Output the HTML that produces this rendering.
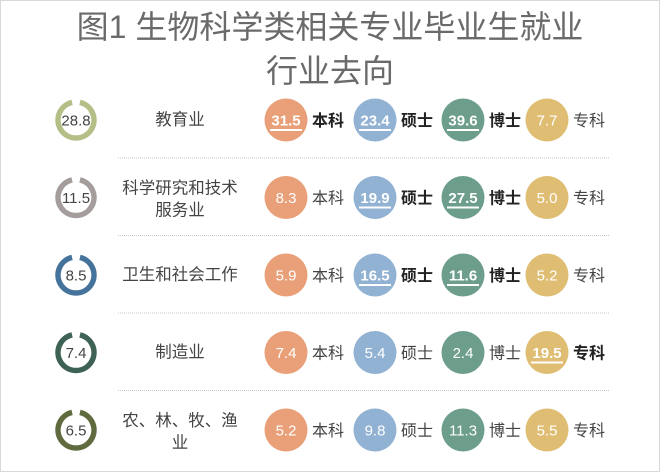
<!DOCTYPE html>
<html><head><meta charset="utf-8">
<style>
body{margin:0;background:#fff;}
#c{position:relative;width:660px;height:472px;overflow:hidden;font-family:"Liberation Sans","Noto Sans CJK SC",sans-serif;}
</style></head><body>
<div id="c">
<svg id="s" width="660" height="472"></svg>
</div>
<script>
const industries=["教育业","科学研究和技术|服务业","卫生和社会工作","制造业","农、林、牧、渔|业"];
const overall=[28.8,11.5,8.5,7.4,6.5];
const bachelor=[31.5,8.3,5.9,7.4,5.2];
const master=[23.4,19.9,16.5,5.4,9.8];
const phd=[39.6,27.5,11.6,2.4,11.3];
const assoc=[7.7,5.0,5.2,19.5,5.5];
const hiBachelor=[1,0,0,0,0];
const hiMaster=[1,1,1,0,0];
const hiPhd=[1,1,1,0,0];
const hiAssoc=[0,0,0,1,0];
const degreeLabels=["本科","硕士","博士","专科"];
const ringColors=["#b3bf86","#a59c9c","#45739c","#3e6355","#5f6b3e"];
const bubbleColors=["#e9a078","#91b2d3","#6d9e8c","#dfbe73"];
const NS="http://www.w3.org/2000/svg";
const s=document.getElementById('s');
function el(t,a,txt){const e=document.createElementNS(NS,t);for(const k in a)e.setAttribute(k,a[k]);if(txt!==undefined)e.textContent=txt;s.appendChild(e);return e;}
const rowY=i=>120+i*77.5;
const colX=j=>[286,375,463,547][j];
const fr=el('rect',{x:0.5,y:0.5,width:659,height:471,fill:'none',stroke:'#d8d8d8','stroke-width':1});

let t1=el('text',{x:330,y:38,'text-anchor':'middle','font-size':32,fill:'#6a6a6a'},"图1 生物科学类相关专业毕业生就业");

let t2=el('text',{x:330,y:82,'text-anchor':'middle','font-size':32,fill:'#6a6a6a'},"行业去向");

const series=[bachelor,master,phd,assoc];
const his=[hiBachelor,hiMaster,hiPhd,hiAssoc];
industries.forEach((name,i)=>{
  const y=rowY(i);
  const r=18, g=0.22;
  const a0=-Math.PI/2+g, a1=-Math.PI/2-g+2*Math.PI;
  const p=el('path',{d:`M${76+r*Math.cos(a0)} ${y+r*Math.sin(a0)} A${r} ${r} 0 1 1 ${76+r*Math.cos(a1)} ${y+r*Math.sin(a1)}`,fill:'none',stroke:ringColors[i],'stroke-width':5.5});
  
  const ot=el('text',{x:76,y:y+5.5,'text-anchor':'middle','font-size':15,fill:'#444'},overall[i].toFixed(1));
  
  const parts=name.split('|');
  parts.forEach((ln,k)=>{
    const yy=parts.length>1? y-4+k*22 : y+5;
    const tt=el('text',{x:180,y:yy,'text-anchor':'middle','font-size':16.5,fill:'#444'},ln);
    
  });
  series.forEach((arr,j)=>{
    const x=colX(j), v=arr[i], hi=his[j][i]===1;
    const c=el('circle',{cx:x,cy:y,r:21.5,fill:bubbleColors[j]});
    
    const vt=el('text',{x:x,y:y+5.5,'text-anchor':'middle','font-size':15,fill:'#fff','font-weight':hi?'bold':'normal'},v.toFixed(1));
    
    if(hi){const u=el('rect',{x:x-16,y:y+9,width:32,height:2,fill:'#fff'});
      }
    const lt=el('text',{x:x+26,y:y+6,'font-size':16,fill:hi?'#222':'#444','font-weight':hi?'bold':'normal'},degreeLabels[j]);
    
  });
  if(i<industries.length-1){
    const d=el('line',{x1:118,x2:610,y1:y+38,y2:y+38,stroke:'#c8c8c8','stroke-width':1,'stroke-dasharray':'1 1'});
    
  }
});
</script>
</body></html>
